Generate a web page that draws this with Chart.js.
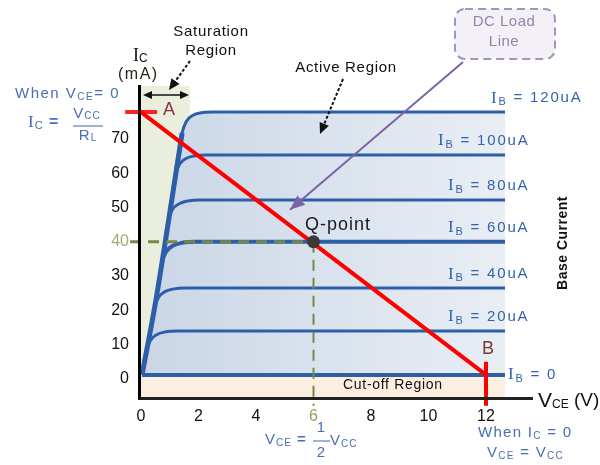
<!DOCTYPE html>
<html><head><meta charset="utf-8">
<script src="https://cdn.jsdelivr.net/npm/chart.js@4/dist/chart.umd.min.js"></script>
<style>html,body{margin:0;padding:0;background:#fff}</style>
</head><body>
<canvas id="c" width="600" height="465"></canvas>
<script>
// ---- data ----
const xTicks = [0, 2, 4, 6, 8, 10, 12];
const yTicks = [0, 10, 20, 30, 40, 50, 60, 70];
const ibNames = ['120uA', '100uA', '80uA', '60uA', '40uA', '20uA', '0'];
const ibLevels = [77.8, 65.3, 52.2, 40, 26.5, 14.0, 1.2];

const satX = [0.035, 0.49, 0.8, 1.43];
const satY = [1.2, 21.6, 37.6, 71.7];
const ib120X = [0.035, 0.49, 0.8, 1.43, 1.57, 1.81, 2.09, 2.47, 12.66];
const ib120Y = [1.2, 21.6, 37.6, 71.7, 75.0, 76.9, 77.6, 77.8, 77.8];
const ib100X = [1.22, 1.34, 1.55, 1.84, 2.26, 12.66];
const ib100Y = [60.3, 62.6, 64.2, 65.0, 65.3, 65.3];
const ib80X = [0.98, 1.1, 1.33, 1.63, 2.05, 12.66];
const ib80Y = [47.2, 49.5, 51.1, 51.9, 52.2, 52.2];
const ib60X = [0.75, 0.88, 1.1, 1.43, 1.9, 12.66];
const ib60Y = [35.0, 37.2, 38.8, 39.7, 40, 40];
const ib40X = [0.49, 0.61, 0.82, 1.11, 1.55, 12.66];
const ib40Y = [21.6, 23.8, 25.4, 26.2, 26.5, 26.5];
const ib20X = [0.21, 0.33, 0.54, 0.83, 1.3, 12.66];
const ib20Y = [9.0, 11.3, 12.9, 13.7, 14.0, 14.0];
const ib0X = [0.035, 12.66];
const ib0Y = [1.2, 1.2];

const loadX = [0, 12];          // A -> B
const loadY = [77.8, 1.2];
const markAX = [-0.55, 0.56];   // red tick at A
const markAY = [77.8, 77.8];
const markBX = [12, 12];        // red tick at B
const markBY = [5.0, -7.8];
const qX = [6];                 // Q-point
const qY = [40];
const qHX = [-0.38, 6];         // dashed guide to Ic axis
const qHY = [40, 40];
const qVX = [6, 6];             // dashed guide to Vce axis
const qVY = [40, -7.8];
const dcArrowX = [11.2, 5.18];  // "DC Load Line" pointer
const dcArrowY = [92.4, 49.3];
const satRegionX = 1.7;         // right edge of saturation region
const cutoffTopY = 1.2;

const pts = (xs, ys) => xs.map((v, i) => ({x: v, y: ys[i]}));

const BLUE = '#2d5ea8';
const TXTBLUE = '#4a6db3';

function fnt(p){ return (p[5]||'') + ' ' + p[1] + 'px ' + (p[3]==='serif' ? '"Liberation Serif", serif' : '"Liberation Sans", Arial, sans-serif'); }
function rich(ctx, x, y, parts, align, color, ls){
  ctx.save();
  ctx.letterSpacing = (ls || 0) + 'px';
  let w = 0;
  parts.forEach(p => { ctx.font = fnt(p); w += ctx.measureText(p[0]).width; });
  let cx = align === 'center' ? x - w/2 : align === 'right' ? x - w : x;
  ctx.textAlign = 'left'; ctx.textBaseline = 'middle';
  parts.forEach(p => { ctx.font = fnt(p); ctx.fillStyle = p[4] || color; ctx.fillText(p[0], cx, y + (p[2]||0)); cx += ctx.measureText(p[0]).width; });
  ctx.restore();
}
function arrowHead(ctx, x0, y0, x1, y1, len, half, color){
  const a = Math.atan2(y1 - y0, x1 - x0);
  ctx.save(); ctx.fillStyle = color; ctx.beginPath();
  ctx.moveTo(x1, y1);
  ctx.lineTo(x1 - len*Math.cos(a) + half*Math.sin(a), y1 - len*Math.sin(a) - half*Math.cos(a));
  ctx.lineTo(x1 - len*Math.cos(a) - half*Math.sin(a), y1 - len*Math.sin(a) + half*Math.cos(a));
  ctx.closePath(); ctx.fill(); ctx.restore();
}
function dashedArrow(ctx, x0, y0, x1, y1){
  const a = Math.atan2(y1 - y0, x1 - x0);
  ctx.save(); ctx.strokeStyle = '#111'; ctx.lineWidth = 2; ctx.setLineDash([3, 2]);
  ctx.beginPath(); ctx.moveTo(x0, y0); ctx.lineTo(x1 - 8*Math.cos(a), y1 - 8*Math.sin(a)); ctx.stroke(); ctx.restore();
  arrowHead(ctx, x0, y0, x1, y1, 11, 5, '#111');
}

const deco = {
  id: 'deco',
  beforeDatasetsDraw(chart){
    const {ctx, scales: {x, y}} = chart;
    ctx.save();
    const yc = y.getPixelForValue(cutoffTopY);
    ctx.fillStyle = '#e9efdc';
    const l = x.left, r = x.getPixelForValue(satRegionX);
    ctx.fillRect(l, y.top, r - l, yc - y.top);
    ctx.fillStyle = '#fdeee2';
    const c0 = x.getPixelForValue(0), c1 = x.getPixelForValue(ib0X[1]);
    ctx.fillRect(c0, yc, c1 - c0, y.bottom - yc);
    ctx.restore();
  },
  afterDraw(chart){
    const {ctx, scales: {x, y}} = chart;
    ctx.save();
    // purple arrow head
    const m = chart.getDatasetMeta(chart.data.datasets.findIndex(d => d.label === 'dcarrow'));
    const p0 = m.data[0], p1 = m.data[1];
    arrowHead(ctx, p0.x, p0.y, p1.x, p1.y, 15, 6, '#7d62a8');
    // DC load line box
    ctx.save();
    ctx.beginPath(); ctx.roundRect(455, 9, 100, 50, 10);
    ctx.fillStyle = '#f3f0f7'; ctx.fill();
    ctx.setLineDash([8, 5]); ctx.lineWidth = 2; ctx.strokeStyle = '#a294bd'; ctx.stroke();
    ctx.restore();
    rich(ctx, 504, 22, [['DC Load', 15]], 'center', '#8f86a8', 0.5);
    rich(ctx, 504, 42, [['Line', 15]], 'center', '#8f86a8', 0.5);
    // saturation / active region labels + arrows
    rich(ctx, 211, 32, [['Saturation', 15]], 'center', '#111', 0.7);
    rich(ctx, 211, 51, [['Region', 15]], 'center', '#111', 0.7);
    dashedArrow(ctx, 190, 61, 169, 90);
    rich(ctx, 346, 68, [['Active Region', 15]], 'center', '#111', 0.7);
    dashedArrow(ctx, 343, 79, 320, 134);
    // double arrow (saturation width)
    ctx.save(); ctx.strokeStyle = '#111'; ctx.lineWidth = 1.5;
    ctx.beginPath(); ctx.moveTo(148, 95); ctx.lineTo(184, 95); ctx.stroke(); ctx.restore();
    arrowHead(ctx, 170, 95, 143, 95, 9, 4, '#111');
    arrowHead(ctx, 160, 95, 189, 95, 9, 4, '#111');
    // axis titles
    rich(ctx, 133, 56, [['I', 18, 0, 'serif'], ['C', 12, 3]], 'left', '#111');
    rich(ctx, 118, 75, [['(mA)', 16]], 'left', '#2a2218', 1.5);
    rich(ctx, 538, 401, [['V', 21], ['CE', 12, 4], [' (V)', 19]], 'left', '#111');
    // left annotation
    rich(ctx, 15, 94, [['When V', 15], ['CE', 10, 3], ['= 0', 15]], 'left', TXTBLUE, 1.5);
    rich(ctx, 28, 123, [['I', 17, 0, 'serif'], ['C', 11, 3], [' =', 16, 0, '', '', 'bold']], 'left', TXTBLUE, 1);
    rich(ctx, 87, 114, [['V', 15], ['CC', 10, 2]], 'center', TXTBLUE, 1);
    ctx.fillStyle = '#9fb1d6'; ctx.fillRect(73, 125, 30, 2);
    rich(ctx, 88, 136, [['R', 15], ['L', 10, 2]], 'center', TXTBLUE, 1);
    // bottom annotations
    rich(ctx, 265, 440, [['V', 15], ['CE', 10, 3], [' =', 15, 0, '', '', 'bold']], 'left', TXTBLUE, 1);
    rich(ctx, 321, 428, [['1', 15]], 'center', TXTBLUE);
    ctx.fillStyle = '#9fb1d6'; ctx.fillRect(313, 440, 17, 2);
    rich(ctx, 321, 453, [['2', 15]], 'center', TXTBLUE);
    rich(ctx, 330, 441, [['V', 15], ['CC', 10, 3]], 'left', TXTBLUE, 1);
    rich(ctx, 478, 433, [['When I', 15], ['C', 10, 3], [' = 0', 15]], 'left', TXTBLUE, 1.3);
    rich(ctx, 487, 453, [['V', 15], ['CE', 10, 3], [' = V', 15], ['CC', 10, 3]], 'left', TXTBLUE, 1.3);
    // Ib labels
    const ibLeft = [491, 438, 448, 448, 448, 448, 508];
    ibNames.forEach((n, i) => {
      const py = y.getPixelForValue(ibLevels[i]) + (i === 6 ? 0 : -14);
      rich(ctx, ibLeft[i], py, [['I', 17, 0, 'serif'], ['B', 11, 4], [' = ' + n, 15]], 'left', '#3463ad', 1.8);
    });
    // A, B, Q-point, Cut-off
    rich(ctx, 163, 110, [['A', 18]], 'left', '#8a3045');
    rich(ctx, 482, 349, [['B', 18]], 'left', '#7a3535');
    rich(ctx, 305, 225, [['Q-point', 18]], 'left', '#1a1a1a', 1);
    rich(ctx, 343, 385, [['Cut-off Region', 14]], 'left', '#111', 0.7);
    // Base Current (rotated)
    ctx.save(); ctx.translate(563, 243); ctx.rotate(-Math.PI/2);
    rich(ctx, 0, 0, [['Base Current', 14, 0, '', '', 'bold']], 'center', '#111', 0.5);
    ctx.restore();
    ctx.restore();
  }
};

const curve = (label, xs, ys, w) => ({label, data: pts(xs, ys), borderColor: BLUE, borderWidth: w, pointRadius: 0, cubicInterpolationMode: 'monotone', fill: false});

const ctx = document.getElementById('c').getContext('2d');
new Chart(ctx, {
  type: 'line',
  data: {
    datasets: [
      {label: 'Q', data: pts(qX, qY), showLine: false, pointRadius: 6.5, pointBackgroundColor: '#3a3a3a', pointBorderColor: '#3a3a3a', borderWidth: 0},
      {label: 'dcarrow', data: pts(dcArrowX, dcArrowY), borderColor: '#7d62a8', borderWidth: 2, pointRadius: 0, clip: false},
      {label: 'load', data: pts(loadX, loadY), borderColor: '#ff0000', borderWidth: 4, pointRadius: 0},
      {label: 'markA', data: pts(markAX, markAY), borderColor: '#ff2020', borderWidth: 4, pointRadius: 0, clip: false},
      {label: 'markB', data: pts(markBX, markBY), borderColor: '#ff0000', borderWidth: 4, pointRadius: 0, clip: false},
      {label: 'qh', data: pts(qHX, qHY), borderColor: '#74884a', borderWidth: 3, borderDash: [11, 7], pointRadius: 0, clip: false},
      {label: 'qv', data: pts(qVX, qVY), borderColor: '#74884a', borderWidth: 2, borderDash: [11, 7], pointRadius: 0, clip: false},
      curve('sat', satX, satY, 5),
      curve('ib0', ib0X, ib0Y, 4),
      curve('ib20', ib20X, ib20Y, 3),
      curve('ib40', ib40X, ib40Y, 3),
      curve('ib60', ib60X, ib60Y, 4),
      curve('ib80', ib80X, ib80Y, 3),
      curve('ib100', ib100X, ib100Y, 3),
      Object.assign(curve('ib120', ib120X, ib120Y, 3), {
        fill: {value: cutoffTopY},
        backgroundColor: (c) => {
          const a = c.chart.chartArea; if (!a) return '#d5dfeb';
          const g = c.chart.ctx.createLinearGradient(c.chart.scales.x.getPixelForValue(0.5), 0, c.chart.scales.x.getPixelForValue(12.66), 0);
          g.addColorStop(0, '#cbd7e7'); g.addColorStop(1, '#e9eef4'); return g;
        }
      })
    ]
  },
  options: {
    responsive: false, animation: false, devicePixelRatio: 1,
    layout: {padding: {top: 86, right: 68, left: 0, bottom: 0}},
    plugins: {legend: {display: false}, tooltip: {enabled: false}},
    scales: {
      x: {
        type: 'linear', min: -0.07, max: 13.6,
        afterBuildTicks: s => { s.ticks = xTicks.map(v => ({value: v})); },
        afterFit: s => { s.height = 67; },
        grid: {display: false, drawTicks: false},
        border: {display: true, color: '#222', width: 3, z: 1},
        ticks: {padding: 9, font: {size: 16, family: '"Liberation Sans", Arial'}, color: c => c.tick && c.tick.value === 6 ? '#9a9a5a' : '#111', maxRotation: 0}
      },
      y: {
        type: 'linear', min: -5.54, max: 85.4,
        afterBuildTicks: s => { s.ticks = yTicks.map(v => ({value: v})); },
        afterFit: s => { s.width = 139; },
        grid: {display: false, drawTicks: false},
        border: {display: true, color: '#000', width: 3, z: 1},
        ticks: {padding: 10, font: {size: 16, family: '"Liberation Sans", Arial'}, color: c => c.tick && c.tick.value === 40 ? '#a8a77c' : '#111'}
      }
    }
  },
  plugins: [deco]
});
</script>
</body></html>
